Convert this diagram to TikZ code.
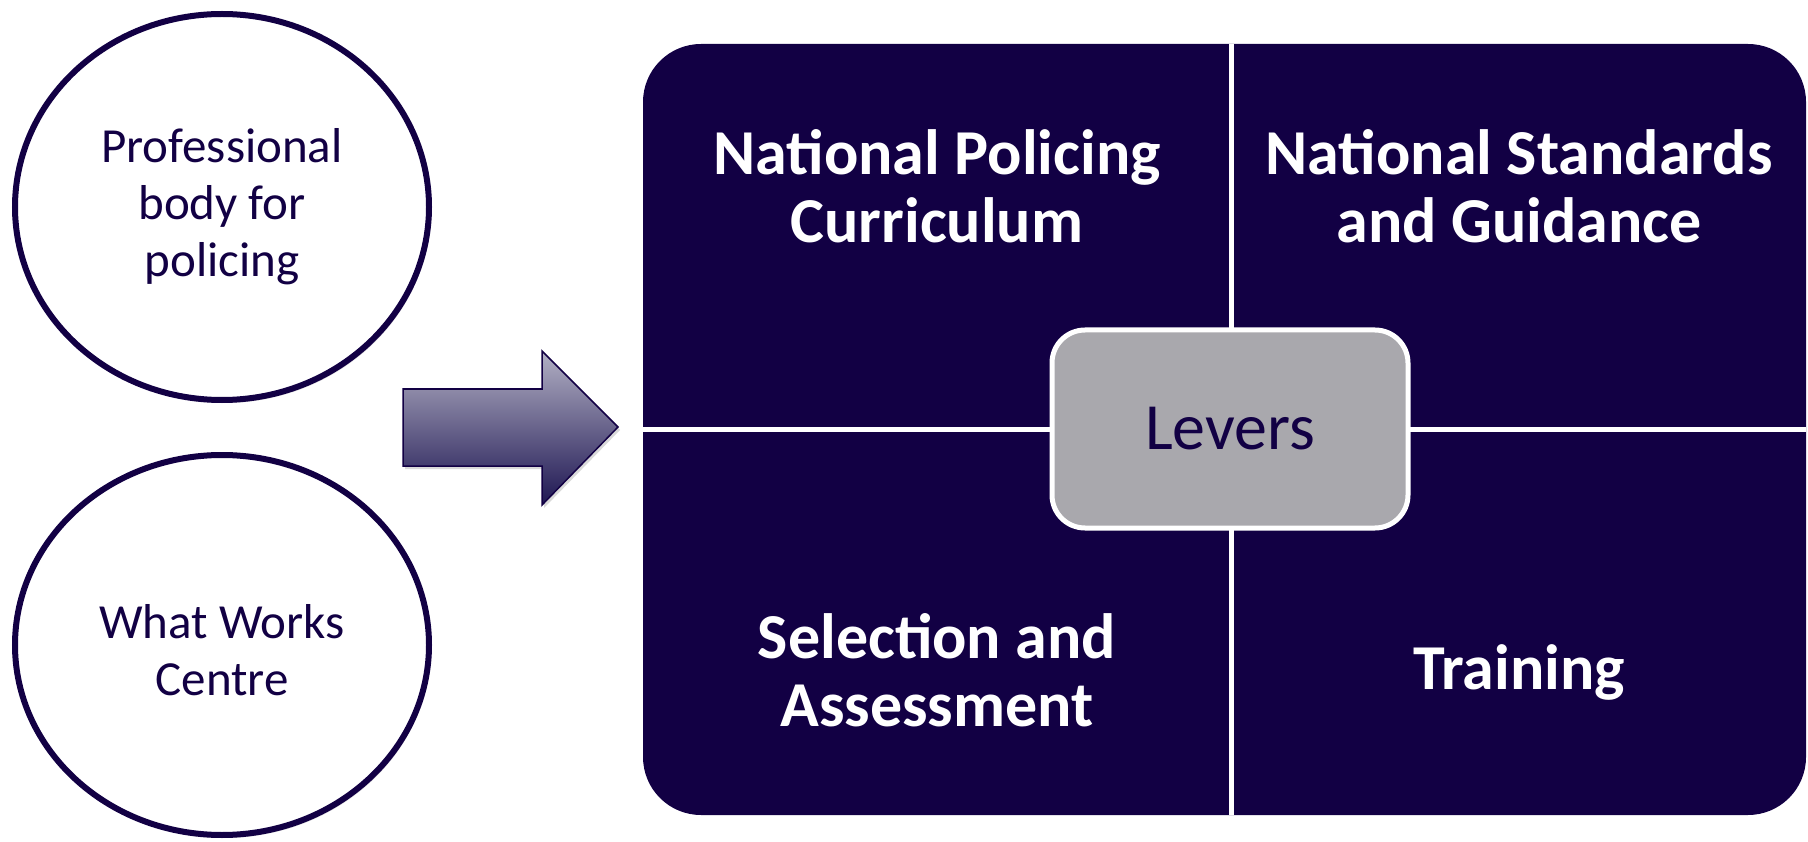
\documentclass[tikz,border=0pt]{standalone}
\usepackage{fontspec}
\setmainfont{Carlito}
\usetikzlibrary{shadows}
\definecolor{navy}{RGB}{18,0,68}
\definecolor{leverfill}{RGB}{169,168,173}
\definecolor{arrowtop}{RGB}{178,176,196}
\definecolor{arrowbot}{RGB}{30,22,82}
\begin{document}
\begin{tikzpicture}[x=1pt,y=-1pt,
  circtext/.style={text=navy,align=center,font=\fontsize{49}{57}\selectfont},
  head/.style={text=white,align=center,font=\bfseries\fontsize{64}{68}\selectfont},
  divider/.style={draw=white,line width=5pt},
  ring/.style={navy,line width=6pt,fill=white,drop shadow={opacity=0.25,shadow xshift=2pt,shadow yshift=-3pt}}]
\useasboundingbox (0,0) rectangle (1808,842);
% left circles
\draw[ring] (222,207) ellipse [x radius=207,y radius=193];
\draw[ring] (222,645) ellipse [x radius=207,y radius=190];
\node[circtext] (prof) at (222,207) {Professional\\body for\\policing};
\node[circtext] (wwc) at (222,650) {What Works\\Centre};
% arrow
\path[draw=navy,line width=1.5pt,top color=arrowtop,bottom color=arrowbot,
  drop shadow={opacity=0.3,shadow xshift=2pt,shadow yshift=-3pt}]
  (403,389) -- (542,389) -- (542,351) -- (618,427) -- (542,505) -- (542,466) -- (403,466) -- cycle;
% main block
\fill[navy,rounded corners=58pt] (643,44) rectangle (1806,815);
\coordinate (vt) at (1231,44);
\coordinate (vb) at (1231,815);
\coordinate (hl) at (643,429);
\coordinate (hr) at (1806,429);
\draw[divider] (vt) -- (vb);
\draw[divider] (hl) -- (hr);
\node[head] (npc) at (937,186) {National Policing\\Curriculum};
\node[head] (nsg) at (1519,186) {National Standards\\and Guidance};
\node[head] (sa) at (937,670) {Selection and\\Assessment};
\node[head] (tr) at (1519,672) {Training};
% levers
\node[draw=white,line width=5pt,fill=leverfill,rounded corners=33pt,
  minimum width=356pt,minimum height=198pt,text=navy,
  font=\fontsize{66}{66}\selectfont] (lev) at (1230,429) {Levers};
\end{tikzpicture}
\end{document}
